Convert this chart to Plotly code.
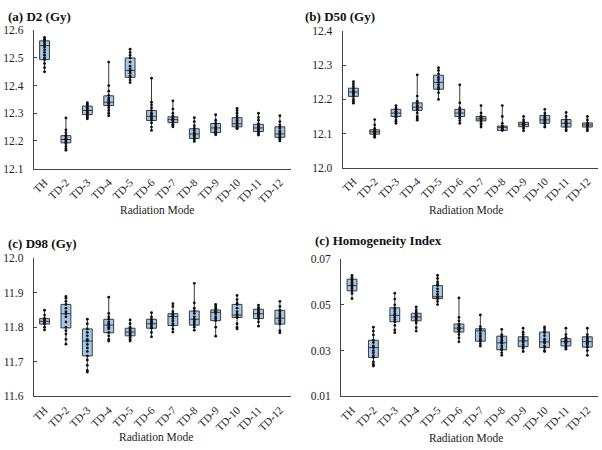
import plotly.graph_objects as go

categories = ["TH", "TD-2", "TD-3", "TD-4", "TD-5", "TD-6", "TD-7", "TD-8", "TD-9", "TD-10", "TD-11", "TD-12"]

# ---- (a) D2 ----
d2_q1 = [12.494, 12.193, 12.295, 12.328, 12.430, 12.274, 12.266, 12.209, 12.230, 12.251, 12.234, 12.213]
d2_med = [12.545, 12.205, 12.310, 12.340, 12.455, 12.289, 12.277, 12.225, 12.247, 12.262, 12.247, 12.225]
d2_q3 = [12.562, 12.219, 12.326, 12.363, 12.500, 12.310, 12.287, 12.244, 12.263, 12.284, 12.260, 12.251]
d2_min = [12.450, 12.166, 12.280, 12.291, 12.411, 12.238, 12.251, 12.198, 12.222, 12.244, 12.221, 12.200]
d2_max = [12.574, 12.283, 12.338, 12.485, 12.532, 12.427, 12.345, 12.284, 12.295, 12.318, 12.300, 12.291]
d2_points = [
    [12.574, 12.568, 12.562, 12.555, 12.548, 12.540, 12.530, 12.52, 12.51, 12.50, 12.494, 12.48, 12.465, 12.45],
    [12.283, 12.24, 12.23, 12.22, 12.215, 12.21, 12.205, 12.20, 12.195, 12.19, 12.18, 12.172, 12.166],
    [12.338, 12.333, 12.326, 12.32, 12.315, 12.31, 12.305, 12.30, 12.295, 12.29, 12.285, 12.28],
    [12.485, 12.40, 12.38, 12.365, 12.355, 12.348, 12.342, 12.335, 12.328, 12.32, 12.31, 12.30, 12.291],
    [12.532, 12.52, 12.51, 12.50, 12.485, 12.47, 12.46, 12.453, 12.445, 12.435, 12.43, 12.42, 12.411],
    [12.427, 12.34, 12.33, 12.32, 12.31, 12.30, 12.295, 12.289, 12.282, 12.275, 12.265, 12.25, 12.238],
    [12.345, 12.315, 12.30, 12.29, 12.285, 12.28, 12.277, 12.272, 12.268, 12.26, 12.255, 12.251],
    [12.284, 12.27, 12.255, 12.245, 12.238, 12.23, 12.225, 12.22, 12.215, 12.21, 12.205, 12.198],
    [12.295, 12.275, 12.265, 12.258, 12.25, 12.247, 12.242, 12.235, 12.23, 12.226, 12.222],
    [12.318, 12.31, 12.30, 12.29, 12.283, 12.275, 12.268, 12.262, 12.256, 12.25, 12.246, 12.244],
    [12.30, 12.285, 12.275, 12.262, 12.255, 12.25, 12.247, 12.242, 12.236, 12.23, 12.225, 12.221],
    [12.291, 12.27, 12.258, 12.25, 12.245, 12.235, 12.228, 12.222, 12.215, 12.21, 12.205, 12.20],
]

# ---- (b) D50 ----
d50_q1 = [12.209, 12.098, 12.150, 12.168, 12.230, 12.150, 12.137, 12.109, 12.120, 12.130, 12.119, 12.119]
d50_med = [12.222, 12.105, 12.160, 12.177, 12.250, 12.160, 12.143, 12.118, 12.127, 12.140, 12.130, 12.125]
d50_q3 = [12.233, 12.111, 12.171, 12.190, 12.271, 12.171, 12.150, 12.122, 12.133, 12.153, 12.141, 12.131]
d50_min = [12.189, 12.089, 12.130, 12.139, 12.200, 12.130, 12.119, 12.109, 12.108, 12.119, 12.108, 12.108]
d50_max = [12.252, 12.141, 12.182, 12.272, 12.293, 12.243, 12.182, 12.182, 12.150, 12.171, 12.162, 12.150]
d50_points = [
    [12.252, 12.245, 12.238, 12.232, 12.226, 12.222, 12.218, 12.213, 12.208, 12.20, 12.195, 12.189],
    [12.141, 12.125, 12.115, 12.11, 12.107, 12.104, 12.10, 12.097, 12.093, 12.089],
    [12.182, 12.175, 12.17, 12.165, 12.16, 12.157, 12.152, 12.148, 12.14, 12.135, 12.13],
    [12.272, 12.21, 12.195, 12.188, 12.182, 12.178, 12.172, 12.168, 12.16, 12.15, 12.145, 12.139],
    [12.293, 12.285, 12.275, 12.265, 12.258, 12.25, 12.243, 12.235, 12.23, 12.22, 12.2],
    [12.243, 12.19, 12.175, 12.17, 12.165, 12.16, 12.155, 12.15, 12.145, 12.138, 12.13],
    [12.182, 12.16, 12.152, 12.148, 12.145, 12.143, 12.14, 12.137, 12.13, 12.125, 12.119],
    [12.182, 12.15, 12.13, 12.122, 12.12, 12.118, 12.115, 12.112, 12.11, 12.109],
    [12.15, 12.14, 12.133, 12.13, 12.127, 12.124, 12.12, 12.115, 12.108],
    [12.171, 12.16, 12.153, 12.148, 12.143, 12.14, 12.136, 12.132, 12.128, 12.12, 12.119],
    [12.162, 12.15, 12.141, 12.137, 12.133, 12.13, 12.126, 12.122, 12.119, 12.112, 12.108],
    [12.15, 12.14, 12.131, 12.128, 12.125, 12.122, 12.119, 12.113, 12.108],
]

# ---- (c) D98 ----
d98_q1 = [11.809, 11.798, 11.717, 11.784, 11.775, 11.797, 11.805, 11.806, 11.819, 11.828, 11.825, 11.809]
d98_med = [11.817, 11.839, 11.760, 11.806, 11.786, 11.810, 11.831, 11.823, 11.843, 11.835, 11.839, 11.826]
d98_q3 = [11.825, 11.866, 11.795, 11.823, 11.797, 11.823, 11.839, 11.847, 11.850, 11.866, 11.852, 11.849]
d98_min = [11.792, 11.751, 11.670, 11.760, 11.760, 11.772, 11.786, 11.791, 11.774, 11.795, 11.803, 11.784]
d98_max = [11.849, 11.889, 11.823, 11.887, 11.821, 11.842, 11.868, 11.927, 11.866, 11.892, 11.864, 11.875]
d98_points = [
    [11.849, 11.835, 11.826, 11.822, 11.818, 11.815, 11.812, 11.809, 11.80, 11.792],
    [11.889, 11.884, 11.875, 11.866, 11.855, 11.845, 11.839, 11.83, 11.815, 11.80, 11.79, 11.78, 11.765, 11.751],
    [11.823, 11.81, 11.795, 11.785, 11.775, 11.765, 11.76, 11.75, 11.74, 11.73, 11.717, 11.705, 11.69, 11.675, 11.67],
    [11.887, 11.84, 11.83, 11.823, 11.815, 11.81, 11.806, 11.80, 11.795, 11.785, 11.775, 11.765, 11.76],
    [11.821, 11.81, 11.80, 11.795, 11.79, 11.786, 11.782, 11.778, 11.775, 11.77, 11.765, 11.76],
    [11.842, 11.83, 11.823, 11.818, 11.814, 11.81, 11.806, 11.80, 11.797, 11.785, 11.772],
    [11.868, 11.86, 11.845, 11.839, 11.835, 11.831, 11.825, 11.818, 11.81, 11.805, 11.795, 11.786],
    [11.927, 11.87, 11.855, 11.847, 11.84, 11.83, 11.823, 11.818, 11.812, 11.806, 11.80, 11.791],
    [11.866, 11.86, 11.855, 11.85, 11.846, 11.843, 11.838, 11.83, 11.825, 11.819, 11.80, 11.774],
    [11.892, 11.88, 11.87, 11.866, 11.855, 11.845, 11.838, 11.835, 11.83, 11.828, 11.81, 11.80, 11.795],
    [11.864, 11.857, 11.852, 11.847, 11.842, 11.839, 11.835, 11.83, 11.825, 11.815, 11.803],
    [11.875, 11.86, 11.849, 11.845, 11.838, 11.832, 11.826, 11.82, 11.815, 11.809, 11.79, 11.784],
]

# ---- (d) Homogeneity Index ----
hi_q1 = [0.0561, 0.0270, 0.0426, 0.0430, 0.0527, 0.0381, 0.0341, 0.0303, 0.0317, 0.0313, 0.0320, 0.0315]
hi_med = [0.0584, 0.0313, 0.0454, 0.0447, 0.0535, 0.0398, 0.0386, 0.0334, 0.0342, 0.0338, 0.0339, 0.0339]
hi_q3 = [0.0612, 0.0345, 0.0487, 0.0463, 0.0584, 0.0416, 0.0395, 0.0363, 0.0360, 0.0381, 0.0352, 0.0360]
hi_min = [0.0527, 0.0232, 0.0378, 0.0385, 0.0501, 0.0338, 0.0320, 0.0279, 0.0296, 0.0296, 0.0306, 0.0279]
hi_max = [0.0629, 0.0402, 0.0551, 0.0491, 0.0629, 0.0530, 0.0456, 0.0393, 0.0398, 0.0403, 0.0398, 0.0398]
hi_points = [
    [0.0629, 0.062, 0.0612, 0.0605, 0.0598, 0.059, 0.0584, 0.0578, 0.057, 0.0562, 0.055, 0.0527],
    [0.0402, 0.0385, 0.0368, 0.0345, 0.0335, 0.032, 0.0313, 0.030, 0.029, 0.0278, 0.027, 0.025, 0.024, 0.0232],
    [0.0551, 0.0525, 0.050, 0.0487, 0.048, 0.047, 0.046, 0.0454, 0.0445, 0.0435, 0.0426, 0.041, 0.039, 0.0378],
    [0.0491, 0.0478, 0.047, 0.0463, 0.0455, 0.045, 0.0447, 0.0442, 0.0436, 0.043, 0.042, 0.040, 0.0385],
    [0.0629, 0.0615, 0.060, 0.059, 0.0584, 0.057, 0.0558, 0.0545, 0.0535, 0.053, 0.0527, 0.0515, 0.0501],
    [0.053, 0.0445, 0.043, 0.0416, 0.041, 0.0402, 0.0398, 0.0393, 0.0387, 0.0381, 0.037, 0.0355, 0.0338],
    [0.0456, 0.0405, 0.0395, 0.039, 0.0388, 0.0375, 0.0365, 0.036, 0.035, 0.0341, 0.033, 0.032],
    [0.0393, 0.037, 0.0363, 0.0355, 0.0345, 0.0339, 0.0332, 0.032, 0.031, 0.0303, 0.029, 0.0279],
    [0.0398, 0.038, 0.037, 0.036, 0.0352, 0.0346, 0.0342, 0.0335, 0.0325, 0.0317, 0.031, 0.0296],
    [0.0403, 0.0395, 0.0385, 0.0378, 0.0365, 0.035, 0.034, 0.0333, 0.032, 0.0313, 0.030, 0.0296],
    [0.0398, 0.037, 0.0358, 0.0352, 0.0345, 0.034, 0.0339, 0.0335, 0.033, 0.032, 0.0313, 0.0306],
    [0.0398, 0.037, 0.036, 0.0353, 0.0346, 0.034, 0.0339, 0.0332, 0.0325, 0.0315, 0.030, 0.0279],
]

panel_titles = ["(a) D2 (Gy)", "(b) D50 (Gy)", "(c) D98 (Gy)", "(c) Homogeneity Index"]
x_title = "Radiation Mode"

W, H = 602, 450
FONT = "Liberation Serif, Times New Roman, serif"
BOX_FILL = "#A3C8EA"
EDGE = "#3a3a3a"

panels = [
    dict(q1=d2_q1, med=d2_med, q3=d2_q3, lo=d2_min, hi=d2_max, pts=d2_points,
         xpx=(31, 289), ypx=(25, 167), rng=(12.1, 12.6), dtick=0.1, fmt=".1f",
         title_px=(3, 11), xt_px=(155, 210)),
    dict(q1=d50_q1, med=d50_med, q3=d50_q3, lo=d50_min, hi=d50_max, pts=d50_points,
         xpx=(341.5, 598), ypx=(26, 166), rng=(12.0, 12.4), dtick=0.1, fmt=".1f",
         title_px=(302, 11), xt_px=(465, 210)),
    dict(q1=d98_q1, med=d98_med, q3=d98_q3, lo=d98_min, hi=d98_max, pts=d98_points,
         xpx=(31, 289), ypx=(259, 401), rng=(11.6, 12.0), dtick=0.1, fmt=".1f",
         title_px=(3, 244), xt_px=(154, 443)),
    dict(q1=hi_q1, med=hi_med, q3=hi_q3, lo=hi_min, hi=hi_max, pts=hi_points,
         xpx=(340, 598), ypx=(260, 401), rng=(0.01, 0.07), dtick=0.02, fmt=".2f",
         title_px=(312, 241), xt_px=(465, 444)),
]

fig = go.Figure()
annotations = []
layout_axes = {}

for i, p in enumerate(panels):
    n = "" if i == 0 else str(i + 1)
    xa, ya = "x" + n, "y" + n
    fig.add_trace(go.Box(
        x=categories, q1=p["q1"], median=p["med"], q3=p["q3"],
        lowerfence=p["lo"], upperfence=p["hi"],
        boxpoints=False, width=0.46, whiskerwidth=0.2,
        fillcolor=BOX_FILL, line=dict(color=EDGE, width=1),
        xaxis=xa, yaxis=ya, showlegend=False, hoverinfo="skip"))
    xs, ys = [], []
    for c, vals in zip(categories, p["pts"]):
        xs += [c] * len(vals)
        ys += vals
    fig.add_trace(go.Scatter(
        x=xs, y=ys, mode="markers",
        marker=dict(color="#111111", size=2.8),
        xaxis=xa, yaxis=ya, showlegend=False, hoverinfo="skip"))

    layout_axes["xaxis" + n] = dict(
        domain=[p["xpx"][0] / W, p["xpx"][1] / W], anchor=ya,
        type="category", categoryorder="array", categoryarray=categories,
        range=[-0.5, 11.5], showline=True, linecolor="#444", linewidth=1.3,
        ticks="", tickangle=-45, showgrid=False, zeroline=False,
        ticklabelstandoff=2,
        tickfont=dict(family=FONT, size=11, color="#222"))
    layout_axes["yaxis" + n] = dict(
        domain=[1 - p["ypx"][1] / H, 1 - p["ypx"][0] / H], anchor=xa,
        range=list(p["rng"]), dtick=p["dtick"], tick0=p["rng"][0], tickformat=p["fmt"],
        showline=True, linecolor="#444", linewidth=1.3,
        ticks="inside", ticklen=3, tickcolor="#444",
        showgrid=False, zeroline=False, ticklabelstandoff=7,
        tickfont=dict(family=FONT, size=11.5, color="#222"))

    annotations.append(dict(
        text="<b>" + panel_titles[i] + "</b>", xref="paper", yref="paper",
        x=p["title_px"][0] / W, y=1 - p["title_px"][1] / H,
        xanchor="left", yanchor="middle", showarrow=False,
        font=dict(family=FONT, size=13, color="#111")))
    annotations.append(dict(
        text=x_title, xref="paper", yref="paper",
        x=p["xt_px"][0] / W, y=1 - p["xt_px"][1] / H,
        xanchor="center", yanchor="middle", showarrow=False,
        font=dict(family=FONT, size=11.5, color="#222")))

fig.update_layout(
    width=W, height=H, margin=dict(l=0, r=0, t=0, b=0),
    paper_bgcolor="white", plot_bgcolor="white",
    annotations=annotations, **layout_axes)

fig.write_html("out.html")
